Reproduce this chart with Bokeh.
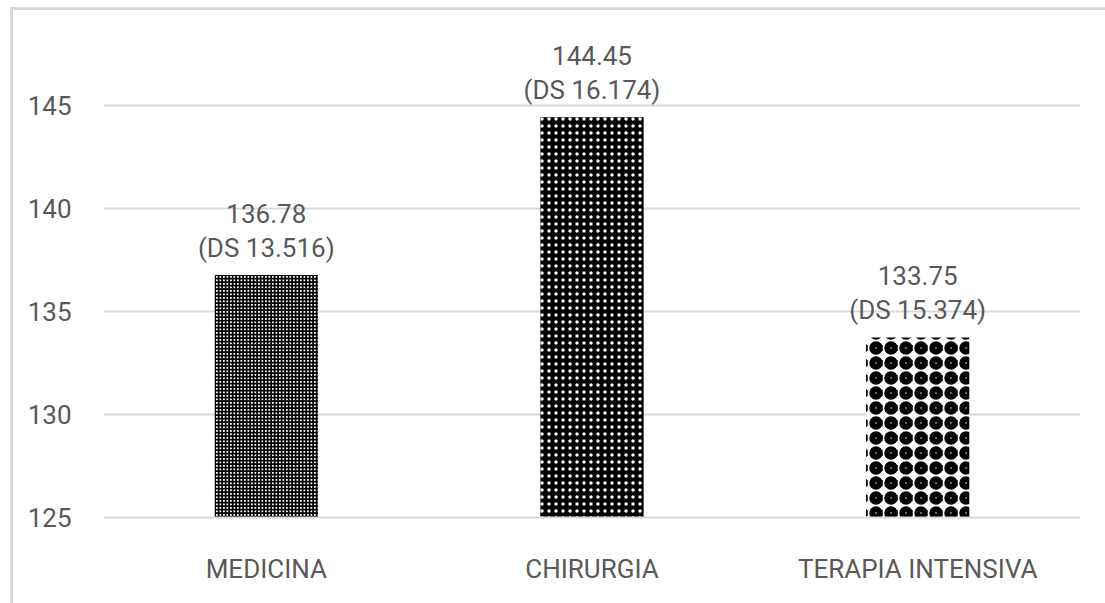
from bokeh.plotting import figure
from bokeh.models import ColumnDataSource, FixedTicker
from bokeh.core.properties import value
from bokeh.embed import file_html
from bokeh.resources import INLINE

# Mean values per ward, with standard deviation
categories = ["MEDICINA", "CHIRURGIA", "TERAPIA INTENSIVA"]
means = [136.78, 144.45, 133.75]
sds = [13.516, 16.174, 15.374]
y_ticks = [125, 130, 135, 140, 145]

FONT = "Roboto"
FSIZE = "26px"
TXT = "#595959"
GRID = "#d9d9d9"

p = figure(
    x_range=categories, y_range=(125, 149),
    width=1095, height=596,
    output_backend="svg", toolbar_location=None,
    min_border_left=90, min_border_right=28, min_border_top=13, min_border_bottom=89,
    margin=(7, 0, 0, 10),
)
p.styles = {"border-top": f"3px solid {GRID}", "border-left": f"3px solid {GRID}"}
p.outline_line_color = None
p.background_fill_color = "white"
p.border_fill_color = "white"

# one fill pattern per ward
styles = [
    dict(fill_color="white", hatch_pattern="+", hatch_color="black", hatch_scale=3.5, hatch_weight=2),
    dict(fill_color="black", hatch_pattern=".", hatch_color="white", hatch_scale=7, hatch_weight=2.5),
    dict(fill_color="white", hatch_pattern="o", hatch_color="black", hatch_scale=15, hatch_weight=6),
]
for cat, m, st in zip(categories, means, styles):
    src = ColumnDataSource(dict(x=[cat], top=[m]))
    p.vbar(x="x", top="top", bottom=125, width=0.317, source=src, line_color=None, **st)

# two-line value labels above each bar
label_src = ColumnDataSource(dict(
    x=categories, y=means,
    v=[f"{m:.2f}" for m in means],
    ds=[f"(DS {s:.3f})" for s in sds],
))
common = dict(source=label_src, text_align="center", text_baseline="bottom",
              text_font=value(FONT), text_font_size=FSIZE, text_color=TXT)
p.text(x="x", y="y", text="ds", y_offset=-12, **common)
p.text(x="x", y="y", text="v", y_offset=-52, **common)

p.yaxis.ticker = FixedTicker(ticks=y_ticks)
p.yaxis.axis_line_color = None
p.yaxis.major_tick_line_color = None
p.yaxis.minor_tick_line_color = None
p.yaxis.major_label_standoff = 26
p.xaxis.axis_line_color = GRID
p.xaxis.axis_line_width = 2
p.xaxis.major_tick_line_color = None
p.xaxis.major_label_standoff = 30
for ax in (p.xaxis, p.yaxis):
    ax.major_label_text_font = FONT
    ax.major_label_text_font_size = FSIZE
    ax.major_label_text_color = TXT

p.xgrid.grid_line_color = None
p.ygrid.grid_line_color = GRID
p.ygrid.grid_line_width = 2
p.x_range.range_padding = 0

open("out.html", "w").write(file_html(p, INLINE))
